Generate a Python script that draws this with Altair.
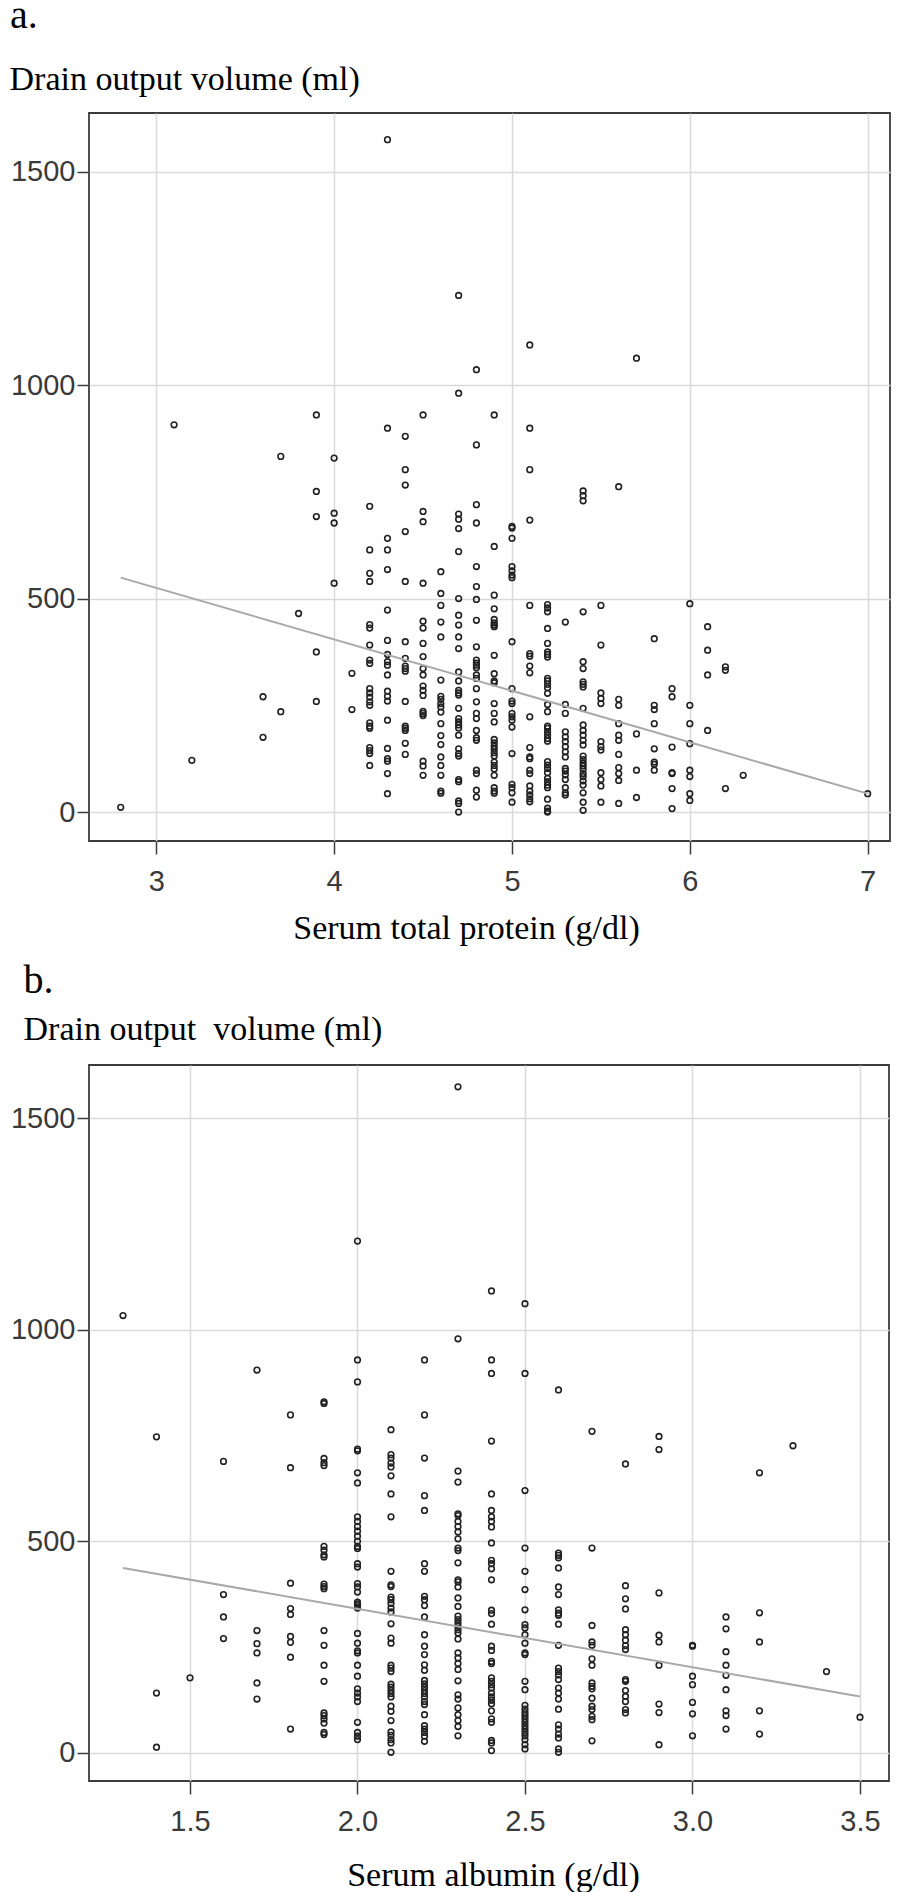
import altair as alt
import pandas as pd

# ---------------- Panel a: serum total protein (g/dl) vs drain output (ml)
a_2_8 = [11]
a_3_1 = [907]
a_3_2 = [121]
a_3_6 = [270, 175]
a_3_7 = [833, 235]
a_3_8 = [465]
a_3_9 = [930, 751, 692, 375, 259]
a_4_0 = [829, 700, 677, 536]
a_4_1 = [325, 240]
a_4_2 = [716, 614, 559, 540, 439, 431, 391, 356, 348, 289, 279, 269, 258, 250,
         209, 201, 196, 151, 144, 137, 109]
a_4_3 = [1575, 899, 641, 614, 568, 473, 402, 369, 352, 344, 321, 283, 271, 260,
         215, 149, 125, 119, 90, 43]
a_4_4 = [880, 802, 766, 657, 540, 399, 360, 342, 336, 330, 259, 201, 196, 191,
         161, 135]
a_4_5 = [930, 704, 680, 536, 447, 431, 395, 364, 336, 321, 295, 285, 273, 236,
         231, 226, 119, 108, 86]
a_4_6 = [563, 512, 484, 445, 410, 309, 271, 264, 254, 246, 234, 207, 179, 158,
         129, 109, 86, 49, 44]
a_4_7 = [1210, 981, 698, 686, 664, 610, 500, 461, 438, 410, 383, 328, 307, 285,
         279, 274, 243, 219, 211, 204, 197, 180, 148, 137, 131, 76, 71, 26, 20, 0]
a_4_8 = [1036, 860, 720, 677, 575, 528, 498, 449, 387, 356, 349, 344, 338, 321,
         313, 289, 258, 231, 219, 191, 174, 168, 98, 90, 51, 35]
a_4_9 = [930, 622, 508, 476, 451, 443, 438, 434, 367, 324, 307, 303, 254, 231,
         211, 170, 162, 154, 147, 139, 131, 117, 109, 101, 86, 57, 49, 44]
a_5_0 = [669, 665, 641, 575, 565, 555, 549, 399, 289, 260, 254, 231, 223, 215,
         199, 137, 65, 57, 45, 23]
a_5_1 = [1094, 899, 802, 684, 484, 371, 365, 342, 326, 223, 151, 129, 125, 98,
         90, 61, 49, 40, 31, 24]
a_5_2 = [486, 478, 469, 430, 395, 375, 369, 363, 313, 307, 299, 291, 278, 252,
         235, 201, 196, 188, 180, 172, 166, 118, 110, 102, 92, 79, 71, 63, 57,
         30, 9, 2, 0]
a_5_3 = [445, 252, 231, 188, 176, 165, 153, 141, 129, 102, 96, 87, 76, 57, 45, 40]
a_5_4 = [752, 741, 729, 469, 352, 336, 305, 299, 293, 243, 204, 191, 180, 168,
         157, 131, 123, 115, 108, 100, 90, 83, 73, 63, 45, 23, 4]
a_5_5 = [484, 391, 279, 266, 254, 165, 153, 145, 92, 76, 61, 23]
a_5_6 = [762, 264, 250, 207, 180, 168, 135, 104, 90, 74, 20]
a_5_7 = [1063, 183, 98, 34]
a_5_8 = [406, 250, 240, 207, 148, 117, 112, 98]
a_5_9 = [289, 270, 152, 92, 90, 55, 8]
a_6_0 = [488, 250, 207, 160, 98, 83, 43, 27]
a_6_1 = [434, 379, 321, 191]
a_6_2 = [340, 332, 55]
a_6_3 = [86]
a_7_0 = [43]

a_columns = [
    (2.8, a_2_8), (3.1, a_3_1), (3.2, a_3_2), (3.6, a_3_6), (3.7, a_3_7),
    (3.8, a_3_8), (3.9, a_3_9), (4.0, a_4_0), (4.1, a_4_1), (4.2, a_4_2),
    (4.3, a_4_3), (4.4, a_4_4), (4.5, a_4_5), (4.6, a_4_6), (4.7, a_4_7),
    (4.8, a_4_8), (4.9, a_4_9), (5.0, a_5_0), (5.1, a_5_1), (5.2, a_5_2),
    (5.3, a_5_3), (5.4, a_5_4), (5.5, a_5_5), (5.6, a_5_6), (5.7, a_5_7),
    (5.8, a_5_8), (5.9, a_5_9), (6.0, a_6_0), (6.1, a_6_1), (6.2, a_6_2),
    (6.3, a_6_3), (7.0, a_7_0),
]
a_fit_x = [2.8, 7.0]
a_fit_y = [549, 43]
a_ticks_x = [3, 4, 5, 6, 7]

# ---------------- Panel b: serum albumin (g/dl) vs drain output (ml)
b_1_3 = [1034]
b_1_4 = [747, 141, 13]
b_1_5 = [177]
b_1_6 = [689, 374, 321, 270]
b_1_7 = [905, 289, 258, 236, 165, 127]
b_1_8 = [799, 674, 401, 341, 327, 275, 261, 226, 56]
b_1_9 = [830, 826, 696, 686, 679, 488, 479, 468, 463, 399, 393, 388, 289, 254,
         207, 169, 94, 88, 80, 70, 48, 43]
b_2_0 = [1210, 929, 877, 718, 714, 662, 638, 558, 547, 535, 524, 512, 500, 488,
         483, 447, 439, 400, 392, 380, 356, 352, 348, 342, 282, 259, 241, 236,
         207, 181, 151, 141, 132, 121, 72, 48, 39, 31]
b_2_1 = [764, 705, 697, 685, 676, 655, 612, 558, 429, 397, 393, 368, 362, 353,
         342, 333, 305, 271, 259, 207, 200, 192, 162, 155, 147, 140, 132, 110,
         98, 76, 49, 41, 31, 23, 1]
b_2_2 = [929, 799, 697, 608, 573, 447, 429, 370, 362, 348, 321, 279, 252, 232,
         208, 195, 171, 163, 155, 147, 140, 132, 121, 114, 90, 64, 56, 48, 39, 27]
b_2_3 = [1575, 979, 666, 640, 565, 561, 547, 535, 522, 506, 484, 478, 449, 409,
         404, 392, 366, 346, 323, 315, 307, 299, 291, 283, 269, 236, 224, 211,
         197, 170, 137, 127, 106, 90, 76, 62, 40]
b_2_4 = [1092, 929, 897, 737, 612, 573, 558, 547, 534, 496, 455, 447, 435, 409,
         337, 329, 304, 252, 242, 216, 211, 177, 169, 161, 153, 141, 132, 124,
         116, 99, 80, 72, 29, 23, 5]
b_2_5 = [1062, 897, 620, 484, 429, 386, 338, 303, 295, 279, 259, 236, 232, 169,
         149, 112, 103, 95, 88, 80, 72, 64, 56, 48, 40, 31, 19, 9]
b_2_6 = [858, 472, 467, 461, 437, 392, 374, 338, 330, 325, 304, 254, 200, 192,
         184, 173, 153, 141, 127, 103, 66, 56, 44, 35, 9, 1]
b_2_7 = [760, 484, 301, 262, 254, 222, 207, 165, 157, 151, 129, 110, 102, 86, 78, 28]
b_2_8 = [683, 395, 364, 340, 291, 279, 266, 253, 244, 173, 169, 147, 133, 121, 102, 94]
b_2_9 = [748, 717, 378, 278, 262, 207, 115, 95, 19]
b_3_0 = [254, 252, 181, 161, 119, 92, 40]
b_3_1 = [321, 293, 239, 207, 183, 149, 99, 88, 56]
b_3_2 = [662, 331, 262, 99, 44]
b_3_3 = [726]
b_3_4 = [192]
b_3_5 = [84]

b_columns = [
    (1.3, b_1_3), (1.4, b_1_4), (1.5, b_1_5), (1.6, b_1_6), (1.7, b_1_7),
    (1.8, b_1_8), (1.9, b_1_9), (2.0, b_2_0), (2.1, b_2_1), (2.2, b_2_2),
    (2.3, b_2_3), (2.4, b_2_4), (2.5, b_2_5), (2.6, b_2_6), (2.7, b_2_7),
    (2.8, b_2_8), (2.9, b_2_9), (3.0, b_3_0), (3.1, b_3_1), (3.2, b_3_2),
    (3.3, b_3_3), (3.4, b_3_4), (3.5, b_3_5),
]
b_fit_x = [1.3, 3.5]
b_fit_y = [437, 133]
b_ticks_x = [1.5, 2.0, 2.5, 3.0, 3.5]

y_ticks = [0, 500, 1000, 1500]

# ---------------- styling constants
GRID = "#d9d9d9"
FRAME = "#3c3c3c"
LABEL = "#3a3a3a"
POINT = "#222222"
FIT = "#a9a9a9"
SANS = "Liberation Sans"
SERIF = "Liberation Serif"


def to_frame(columns):
    rows = []
    for xv, ys in columns:
        for yv in ys:
            rows.append({"x": xv, "y": yv})
    return pd.DataFrame(rows)


def panel(columns, fit_x, fit_y, xticks, xfmt, xdom, ydom, w, h,
          label, label_dx, label_offset,
          ytitle, ytitle_x, ytitle_y, xtitle, xtitle_x, xtitle_y):
    pts_df = to_frame(columns)
    fit_df = pd.DataFrame({"x": fit_x, "y": fit_y})

    x_axis = alt.Axis(
        values=xticks, format=xfmt, grid=True, gridColor=GRID, gridWidth=1.5,
        domain=False, ticks=True, tickSize=13, tickColor=FRAME, tickWidth=1.5,
        labelFont=SANS, labelFontSize=29, labelColor=LABEL, labelPadding=36,
        labelBaseline="alphabetic", labelFlush=False, labelOverlap=False,
        title=xtitle, titleFont=SERIF, titleFontSize=34, titleFontWeight="normal",
        titleColor="#000000", titleX=xtitle_x, titleY=xtitle_y,
        titleAlign="center", titleBaseline="alphabetic",
    )
    y_axis = alt.Axis(
        values=y_ticks, format="d", grid=True, gridColor=GRID, gridWidth=1.5,
        domain=False, ticks=True, tickSize=12, tickColor=FRAME, tickWidth=1.5,
        labelFont=SANS, labelFontSize=29, labelColor=LABEL, labelPadding=2,
        labelFlush=False, labelOverlap=False,
        title=ytitle, titleFont=SERIF, titleFontSize=34, titleFontWeight="normal",
        titleColor="#000000", titleAngle=0, titleAlign="left",
        titleBaseline="alphabetic", titleX=ytitle_x, titleY=ytitle_y,
    )
    xs = alt.Scale(domain=xdom, nice=False, zero=False)
    ys = alt.Scale(domain=ydom, nice=False, zero=False)

    pts = alt.Chart(pts_df).mark_point(
        shape="circle", filled=False, size=32, strokeWidth=1.6,
        color=POINT, opacity=1,
    ).encode(
        x=alt.X("x:Q", scale=xs, axis=x_axis),
        y=alt.Y("y:Q", scale=ys, axis=y_axis),
    )
    fit = alt.Chart(fit_df).mark_line(color=FIT, strokeWidth=2).encode(
        x=alt.X("x:Q", scale=xs, axis=x_axis),
        y=alt.Y("y:Q", scale=ys, axis=y_axis),
    )
    return alt.layer(pts, fit).properties(
        width=w, height=h,
        title=alt.TitleParams(
            label, anchor="start", frame="bounds", font=SERIF, fontSize=40,
            fontWeight="normal", color="#000000", baseline="alphabetic",
            offset=label_offset, dx=label_dx,
        ),
    )


chart_a = panel(
    a_columns, a_fit_x, a_fit_y, a_ticks_x, "d",
    [2.6216, 7.1255], [-67.9, 1637.4], 801, 728,
    "a.", 1, -6,
    "Drain output volume (ml)", -80, -24,
    "Serum total protein (g/dl)", 377, 97,
)
chart_b = panel(
    b_columns, b_fit_x, b_fit_y, b_ticks_x, ".1f",
    [1.1985, 3.5866], [-66.9, 1626.5], 800, 716,
    "b.", 13, -21,
    "Drain output\u00a0 volume (ml)", -66, -26,
    "Serum albumin (g/dl)", 404, 104,
)

chart = alt.vconcat(chart_a, chart_b, spacing=14).properties(
    padding={"left": 0, "top": -13, "right": 0, "bottom": 0},
    background="#ffffff",
).configure_view(stroke=FRAME, strokeWidth=1.8)

chart.save("out.html", embed_options={"renderer": "svg", "actions": False})
